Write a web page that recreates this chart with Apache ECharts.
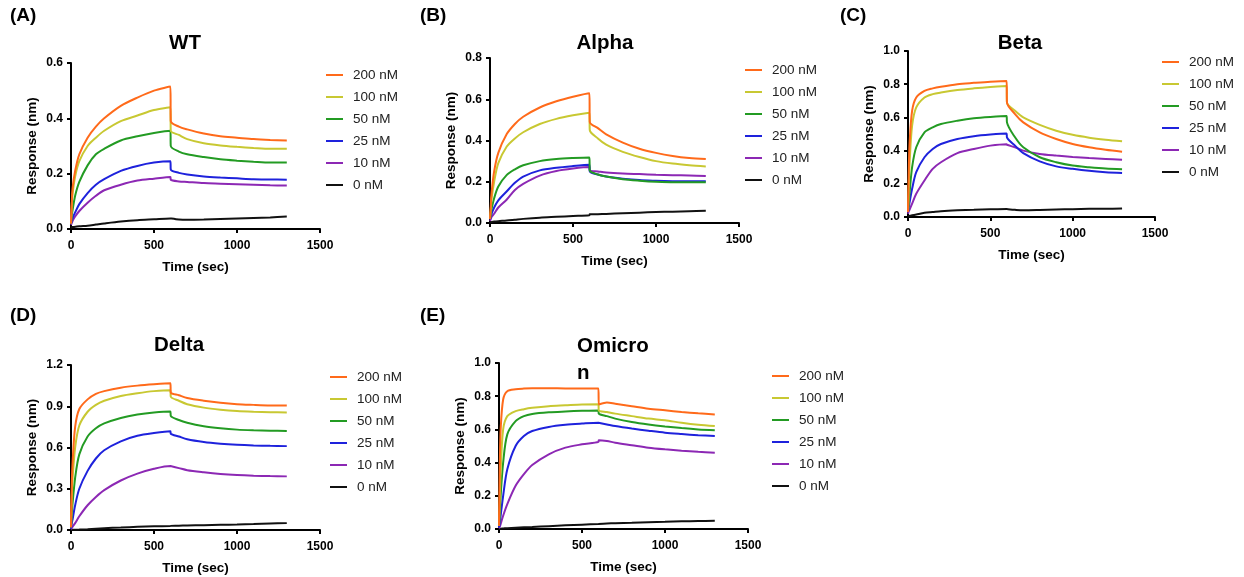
<!DOCTYPE html>
<html><head><meta charset="utf-8">
<script src="https://cdn.jsdelivr.net/npm/echarts@6/dist/echarts.min.js"></script>
<style>html,body{margin:0;padding:0;background:#fff}#c{width:1244px;height:577px}</style>
</head><body><div id="c"></div>
<script>
// time points (sec)
const T = [0,5,10,25,50,100,150,200,300,400,500,599,601,650,700,800,900,1000,1100,1200,1300];
const conc = ['200 nM','100 nM','50 nM','25 nM','10 nM','0 nM'];
const titles = ['WT','Alpha','Beta','Delta','Omicro\nn'];
const panelLabels = ['(A)','(B)','(C)','(D)','(E)'];
const yMax = [0.6,0.8,1.0,1.2,1.0];
const yStep = [0.2,0.2,0.2,0.3,0.2];
const xTicks = [0,500,1000,1500];

// WT
const wt200 = [0.02,0.10,0.15,0.21,0.27,0.33,0.37,0.40,0.445,0.475,0.50,0.515,0.39,0.37,0.36,0.345,0.335,0.33,0.325,0.322,0.32];
const wt100 = [0.02,0.09,0.13,0.19,0.245,0.30,0.33,0.355,0.39,0.41,0.43,0.44,0.355,0.34,0.325,0.31,0.302,0.297,0.293,0.29,0.29];
const wt50  = [0.02,0.05,0.07,0.12,0.17,0.23,0.27,0.29,0.32,0.335,0.347,0.355,0.30,0.28,0.27,0.26,0.252,0.247,0.243,0.24,0.24];
const wt25  = [0.02,0.03,0.04,0.06,0.09,0.13,0.16,0.18,0.21,0.228,0.24,0.245,0.215,0.203,0.197,0.19,0.186,0.183,0.18,0.179,0.178];
const wt10  = [0.015,0.022,0.03,0.045,0.065,0.095,0.12,0.14,0.16,0.175,0.182,0.188,0.178,0.172,0.17,0.166,0.164,0.162,0.16,0.158,0.157];
const wt0   = [0.005,0.006,0.007,0.008,0.01,0.012,0.016,0.02,0.027,0.032,0.035,0.038,0.038,0.034,0.033,0.034,0.036,0.038,0.04,0.042,0.045];
// Alpha
const al200 = [0.02,0.09,0.15,0.25,0.34,0.43,0.48,0.515,0.56,0.59,0.612,0.629,0.49,0.46,0.43,0.39,0.36,0.34,0.325,0.315,0.31];
const al100 = [0.02,0.07,0.12,0.20,0.29,0.37,0.41,0.44,0.48,0.505,0.522,0.535,0.45,0.41,0.38,0.345,0.32,0.30,0.288,0.28,0.274];
const al50  = [0.02,0.05,0.07,0.12,0.177,0.232,0.26,0.28,0.30,0.31,0.315,0.318,0.255,0.235,0.225,0.212,0.205,0.2,0.198,0.197,0.197];
const al25  = [0.02,0.03,0.045,0.075,0.11,0.153,0.195,0.225,0.255,0.268,0.276,0.282,0.25,0.235,0.225,0.215,0.208,0.205,0.203,0.202,0.202];
const al10  = [0.01,0.02,0.03,0.045,0.075,0.113,0.16,0.19,0.23,0.252,0.264,0.271,0.255,0.25,0.245,0.24,0.237,0.234,0.232,0.23,0.228];
const al0   = [0.003,0.004,0.005,0.007,0.009,0.012,0.016,0.02,0.026,0.03,0.034,0.038,0.042,0.043,0.044,0.047,0.05,0.053,0.055,0.057,0.059];
// Beta
const be200 = [0.03,0.3,0.45,0.64,0.72,0.76,0.775,0.785,0.80,0.808,0.815,0.819,0.69,0.62,0.57,0.51,0.47,0.44,0.42,0.405,0.393];
const be100 = [0.03,0.2,0.33,0.55,0.66,0.72,0.74,0.75,0.765,0.775,0.783,0.789,0.69,0.64,0.60,0.555,0.52,0.495,0.478,0.466,0.457];
const be50  = [0.03,0.09,0.15,0.30,0.42,0.51,0.54,0.56,0.58,0.595,0.603,0.608,0.57,0.48,0.42,0.36,0.33,0.31,0.30,0.292,0.288];
const be25  = [0.03,0.06,0.09,0.17,0.27,0.36,0.41,0.44,0.47,0.487,0.497,0.503,0.48,0.43,0.385,0.335,0.305,0.29,0.278,0.27,0.265];
const be10  = [0.02,0.035,0.045,0.08,0.14,0.22,0.29,0.33,0.385,0.41,0.43,0.439,0.435,0.42,0.40,0.38,0.37,0.362,0.355,0.35,0.345];
const be0   = [0.003,0.005,0.007,0.01,0.015,0.025,0.03,0.035,0.04,0.043,0.046,0.048,0.047,0.043,0.04,0.042,0.045,0.047,0.049,0.05,0.051];
// Delta
const de200 = [0.02,0.35,0.5,0.75,0.88,0.95,0.99,1.01,1.035,1.05,1.06,1.067,1.0,0.98,0.96,0.94,0.925,0.915,0.91,0.906,0.905];
const de100 = [0.02,0.25,0.38,0.6,0.76,0.86,0.91,0.94,0.975,0.995,1.01,1.017,0.97,0.94,0.915,0.89,0.875,0.865,0.86,0.857,0.855];
const de50  = [0.02,0.12,0.2,0.38,0.55,0.68,0.74,0.775,0.815,0.84,0.855,0.862,0.83,0.80,0.78,0.755,0.74,0.73,0.725,0.722,0.72];
const de25  = [0.01,0.05,0.08,0.18,0.30,0.43,0.52,0.58,0.645,0.685,0.705,0.718,0.70,0.68,0.66,0.64,0.628,0.62,0.615,0.612,0.61];
const de10  = [0.005,0.015,0.025,0.05,0.10,0.18,0.24,0.29,0.36,0.41,0.445,0.465,0.465,0.45,0.435,0.42,0.408,0.40,0.395,0.392,0.39];
const de0   = [0,0.001,0.001,0.002,0.003,0.006,0.01,0.013,0.018,0.023,0.027,0.03,0.03,0.031,0.033,0.035,0.038,0.04,0.043,0.047,0.05];
// Omicron
const om200 = [0.02,0.4,0.6,0.78,0.83,0.842,0.846,0.848,0.848,0.847,0.847,0.847,0.75,0.762,0.755,0.74,0.725,0.715,0.705,0.697,0.69];
const om100 = [0.02,0.2,0.35,0.6,0.68,0.71,0.722,0.73,0.74,0.745,0.75,0.752,0.715,0.705,0.695,0.68,0.665,0.655,0.64,0.628,0.62];
const om50  = [0.02,0.1,0.2,0.4,0.57,0.65,0.68,0.693,0.703,0.708,0.712,0.714,0.695,0.68,0.665,0.645,0.63,0.618,0.608,0.60,0.595];
const om25  = [0.01,0.04,0.08,0.2,0.36,0.5,0.56,0.59,0.615,0.628,0.635,0.64,0.64,0.63,0.62,0.605,0.592,0.58,0.572,0.565,0.56];
const om10  = [0.005,0.015,0.03,0.08,0.15,0.26,0.33,0.385,0.45,0.49,0.51,0.525,0.535,0.53,0.52,0.505,0.49,0.48,0.472,0.465,0.46];
const om0   = [0,0.001,0.002,0.003,0.005,0.008,0.01,0.012,0.017,0.022,0.026,0.03,0.031,0.033,0.035,0.038,0.041,0.043,0.046,0.048,0.05];

const panelData = [
  [wt200,wt100,wt50,wt25,wt10,wt0],
  [al200,al100,al50,al25,al10,al0],
  [be200,be100,be50,be25,be10,be0],
  [de200,de100,de50,de25,de10,de0],
  [om200,om100,om50,om25,om10,om0]
];

const colors = ['#FF6A1A','#C8C832','#239B23','#1E22DC','#8C28B4','#111111'];
const FONT = '"Liberation Sans", Arial, sans-serif';

// layout
const grids = [
  {left:71, top:63, width:249, height:166},
  {left:490, top:58, width:249, height:165},
  {left:908, top:51, width:247, height:166},
  {left:71, top:365, width:249, height:165},
  {left:499, top:363, width:249, height:166}
];
const legendPos = [[326,68],[745,63],[1162,55],[330,370],[772,369]];
const titlePos = [[185,43],[605,43],[1020,43],[179,345],[577,333]];
const labelPos = [[10,16],[420,16],[840,16],[10,316],[420,316]];

const axisLine = {show:true, onZero:false, lineStyle:{color:'#000', width:2}};
const axisTick = {show:true, length:4, lineStyle:{color:'#000', width:2}};
const labelStyle = {color:'#000', fontWeight:'bold', fontSize:12, fontFamily:FONT};
const nameStyle = {color:'#000', fontWeight:'bold', fontSize:13.5, fontFamily:FONT};

const xAxis = [], yAxis = [], series = [], legend = [], graphic = [];
grids.forEach((g,i)=>{
  xAxis.push({type:'value', gridIndex:i, min:0, max:1500, interval:500,
    name:'Time (sec)', nameLocation:'middle', nameGap:31, nameTextStyle:nameStyle,
    axisLine, axisTick, axisLabel:{...labelStyle, margin:11, formatter:v=>String(v)}, splitLine:{show:false}});
  yAxis.push({type:'value', gridIndex:i, min:0, max:yMax[i], interval:yStep[i],
    name:'Response (nm)', nameLocation:'middle', nameGap:32, nameTextStyle:nameStyle,
    axisLine, axisTick, axisLabel:{...labelStyle, margin:8, formatter:v=>v.toFixed(1)}, splitLine:{show:false}});
  panelData[i].forEach((vals,k)=>{
    series.push({type:'line', name:conc[k], xAxisIndex:i, yAxisIndex:i,
      data:T.map((t,j)=>[t, vals[j]]), showSymbol:false, symbol:'none',
      smooth:0.3,
      lineStyle:{color:colors[k], width:2}, itemStyle:{color:colors[k]}, z:10-k});
  });
  legend.push({orient:'vertical', left:legendPos[i][0], top:legendPos[i][1], padding:0,
    data:conc, icon:'rect', itemWidth:17, itemHeight:2, itemGap:8,
    textStyle:{fontSize:13.5, color:'#222', fontFamily:FONT, padding:[0,0,0,5], lineHeight:14},
    selectedMode:false});
  const isOm = i===4;
  graphic.push({type:'text', x:titlePos[i][0], y:titlePos[i][1],
    style:{text:titles[i], fill:'#000', font:'bold 20.5px '+FONT,
      align:isOm?'left':'center', verticalAlign:isOm?'top':'middle', lineHeight:27}});
  graphic.push({type:'text', x:labelPos[i][0], y:labelPos[i][1],
    style:{text:panelLabels[i], fill:'#000', font:'bold 19px '+FONT, align:'left', verticalAlign:'middle'}});
});

const chart = echarts.init(document.getElementById('c'), null, {renderer:'canvas'});
chart.setOption({
  animation:false, backgroundColor:'#fff',
  grid:grids, xAxis, yAxis, series, legend, graphic
});
</script></body></html>
